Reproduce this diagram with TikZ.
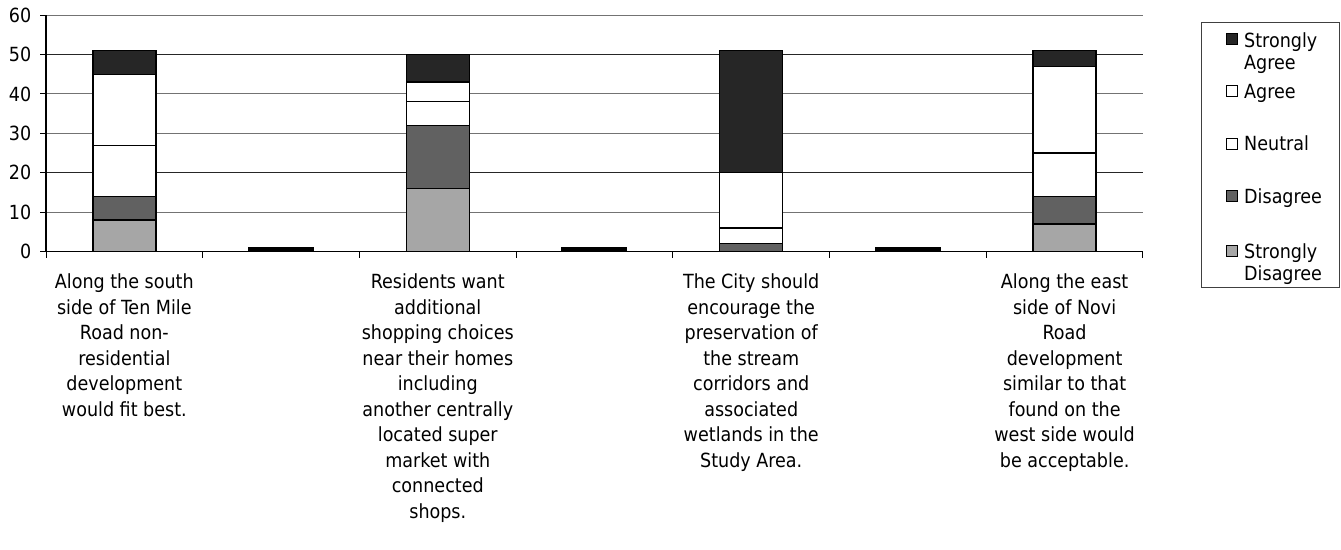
\documentclass[tikz,border=0pt]{standalone}
\usepackage{fontspec}
\setmainfont{DejaVu Sans Condensed}
\begin{document}
\begin{tikzpicture}[x=1pt,y=-1pt,
  lab/.style={font=\fontsize{19.5}{25.5}\selectfont, align=center, inner sep=0pt, anchor=north},
  leglab/.style={font=\fontsize{19.5}{22.5}\selectfont, align=left, inner sep=0pt, anchor=base west},
  leglabtwo/.style={font=\fontsize{19.5}{22.5}\selectfont, align=left, inner sep=0pt, anchor=north west},
  ylab/.style={font=\fontsize{19.5}{22}\selectfont, inner sep=0pt, anchor=east},
  barline/.style={draw=black, line width=1.3pt},
  segSA/.style={barline, fill=black!85},
  segA/.style={barline, fill=white},
  segN/.style={barline, fill=white},
  segD/.style={barline, fill=black!62},
  segSD/.style={barline, fill=black!35},
  segSmall/.style={draw=black, line width=1pt, fill=black},
  grid/.style={draw=black!55, line width=1pt},
  gridk/.style={draw=black!85, line width=1pt},
  legsq/.style={draw=black, line width=0.9pt, minimum size=11pt, inner sep=0pt}
]
\useasboundingbox (0,0) rectangle (1341,549);
\fill[white] (0,0) rectangle (1341,549);

% gridlines
\foreach \v/\st in {10/grid,20/gridk,30/grid,40/grid,50/gridk,60/grid}{
  \draw[\st] (46,{251.7-\v*3.945}) -- (1143,{251.7-\v*3.945});
}

% stacked bars
\foreach \c/\lo/\hi/\s in {
  1/0/8/segSD, 1/8/14/segD, 1/14/27/segN, 1/27/45/segA, 1/45/51/segSA,
  3/0/16/segSD, 3/16/32/segD, 3/32/38/segN, 3/38/43/segA, 3/43/50/segSA,
  5/0/2/segD, 5/2/6/segN, 5/6/20/segA, 5/20/51/segSA,
  7/0/7/segSD, 7/7/14/segD, 7/14/25/segN, 7/25/47/segA, 7/47/51/segSA}{
  \pgfmathsetmacro\cx{46+(\c-0.5)*156.71}
  \draw[\s] ({\cx-31.5},{251.7-\lo*3.945}) rectangle ({\cx+31.5},{251.7-\hi*3.945});
}
% small bars
\foreach \c in {2,4,6}{
  \pgfmathsetmacro\cx{46+(\c-0.5)*156.71}
  \draw[segSmall] ({\cx-32.5},251.7) rectangle ({\cx+32.5},{251.7-1.1*3.945});
}

% axes
\draw[black, line width=1.3pt] (46,15) -- (46,251.7) -- (1143,251.7);
\foreach \v in {0,10,...,60}{
  \draw[black, line width=1pt] (40,{251.7-\v*3.945}) -- (46,{251.7-\v*3.945});
  \node[ylab] (y\v) at (31.5,{251.7-\v*3.945}) {\v};
}
\foreach \k in {0,...,7}{
  \draw[black, line width=1pt] ({46+\k*156.71},251.7) -- ({46+\k*156.71},257.5);
}

% category labels
\node[lab] (c1) at ({46+0.5*156.71},273.6) {Along the south\\side of Ten Mile\\Road non-\\residential\\development\\would fit best.};
\node[lab] (c3) at ({46+2.5*156.71},273.6) {Residents want\\additional\\shopping choices\\near their homes\\including\\another centrally\\located super\\market with\\connected\\shops.};
\node[lab] (c5) at ({46+4.5*156.71},273.6) {The City should\\encourage the\\preservation of\\the stream\\corridors and\\associated\\wetlands in the\\Study Area.};
\node[lab] (c7) at ({46+6.5*156.71},273.6) {Along the east\\side of Novi\\Road\\development\\similar to that\\found on the\\west side would\\be acceptable.};

% legend
\node[draw=black!75, line width=1pt, anchor=north west, minimum width=138pt, minimum height=264.4pt, inner sep=0pt] (legend) at (1201,22.3) {};
\node[legsq, fill=black!85] (sqSA) at (1232,39) {};
\node[legsq, fill=white] (sqA) at (1232,91) {};
\node[legsq, fill=white] (sqN) at (1232,143.5) {};
\node[legsq, fill=black!62] (sqD) at (1232,195.5) {};
\node[legsq, fill=black!35] (sqSD) at (1232,251) {};
\node[leglabtwo] (tSA) at (1244,32) {Strongly\\Agree};
\node[leglab] (tA) at (1244,98) {Agree};
\node[leglab] (tN) at (1244,150) {Neutral};
\node[leglab] (tD) at (1244,203) {Disagree};
\node[leglabtwo] (tSD) at (1244,243.3) {Strongly\\Disagree};
\end{tikzpicture}
\end{document}
